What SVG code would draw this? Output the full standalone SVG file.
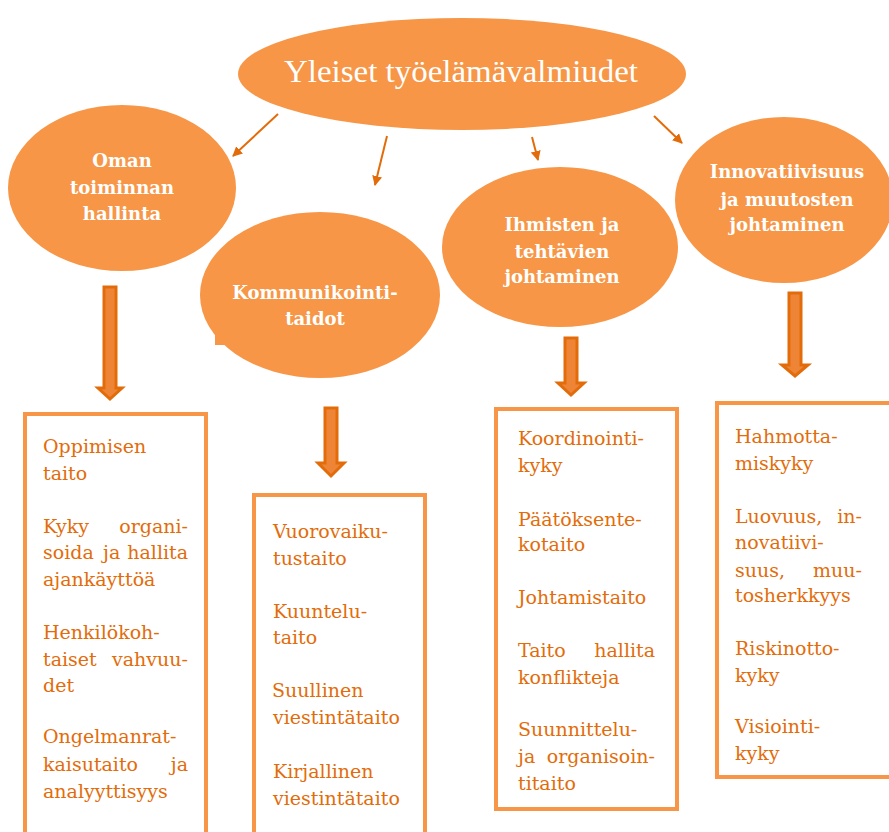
<svg xmlns="http://www.w3.org/2000/svg" width="889" height="832" viewBox="0 0 889 832">
<style>
.node{fill:#F79646}
.ct{font-family:"DejaVu Serif","Liberation Serif",serif;font-size:18px;fill:#fff;text-anchor:middle;font-weight:bold}
.bt{font-family:"DejaVu Serif","Liberation Serif",serif;font-size:19px;fill:#E36C0A}
.e{text-anchor:end}
.box{fill:#fff;stroke:#F79646;stroke-width:4}
.ln{stroke:#E36C0A;stroke-width:2;fill:none}
.blk{fill:#EE8436;stroke:#E36C0A;stroke-width:3;stroke-linejoin:miter}
</style>
<defs>
<marker id="ah" viewBox="0 0 10 10" refX="9" refY="5" markerWidth="5" markerHeight="5" orient="auto" markerUnits="strokeWidth">
<path d="M0,0 L10,5 L0,10 Z" fill="#E36C0A"/>
</marker>
</defs>
<rect width="889" height="832" fill="#fff"/>

<g id="top">
<ellipse class="node" cx="462" cy="74" rx="224" ry="56"/>
<text x="461" y="82" font-family="Liberation Serif, serif" font-size="32" fill="#fff" text-anchor="middle" textLength="354" lengthAdjust="spacingAndGlyphs">Yleiset työelämävalmiudet</text>
</g>

<g id="n1">
<ellipse class="node" cx="122" cy="188" rx="114" ry="83"/>
<text class="ct" x="122" y="167">Oman</text>
<text class="ct" x="122" y="194">toiminnan</text>
<text class="ct" x="122" y="220">hallinta</text>
</g>

<g id="n2">
<ellipse class="node" cx="320" cy="295" rx="120" ry="83"/>
<rect class="node" x="215" y="330" width="25" height="15"/>
<text class="ct" x="315" y="299">Kommunikointi-</text>
<text class="ct" x="315" y="325">taidot</text>
</g>

<g id="n3">
<ellipse class="node" cx="560" cy="247" rx="118" ry="80"/>
<text class="ct" x="562" y="231">Ihmisten ja</text>
<text class="ct" x="562" y="258">tehtävien</text>
<text class="ct" x="562" y="283">johtaminen</text>
</g>

<g id="n4">
<ellipse class="node" cx="784" cy="200" rx="109" ry="83"/>
<text class="ct" x="787" y="178">Innovatiivisuus</text>
<text class="ct" x="787" y="206">ja muutosten</text>
<text class="ct" x="787" y="231">johtaminen</text>
</g>

<g id="connectors">
<line class="ln" x1="278" y1="114" x2="233" y2="156" marker-end="url(#ah)"/>
<line class="ln" x1="387" y1="136" x2="375" y2="185" marker-end="url(#ah)"/>
<line class="ln" x1="532" y1="137" x2="538" y2="160" marker-end="url(#ah)"/>
<line class="ln" x1="654" y1="116" x2="682" y2="143" marker-end="url(#ah)"/>
<path class="blk" d="M104,287 H116 V388 H122 L110,399 L98,388 H104 Z"/>
<path class="blk" d="M325,408 H337 V463 H344 L331,476 L318,463 H325 Z"/>
<path class="blk" d="M565,338 H577 V383 H584 L571,395 L558,383 H565 Z"/>
<path class="blk" d="M789,293 H801 V365 H808 L795,376 L782,365 H789 Z"/>
</g>

<g id="b1">
<rect class="box" x="25" y="414" width="181" height="430"/>
<text class="bt" x="43" y="453">Oppimisen</text>
<text class="bt" x="43" y="480">taito</text>
<text class="bt" x="43" y="533">Kyky</text>
<text class="bt e" x="188" y="533">organi-</text>
<text class="bt" x="43" y="559">soida</text>
<text class="bt" x="103" y="559">ja</text>
<text class="bt e" x="188" y="559">hallita</text>
<text class="bt" x="43" y="586">ajankäyttöä</text>
<text class="bt" x="43" y="639">Henkilökoh-</text>
<text class="bt" x="43" y="666">taiset</text>
<text class="bt e" x="188" y="666">vahvuu-</text>
<text class="bt" x="43" y="692">det</text>
<text class="bt" x="43" y="743">Ongelmanrat-</text>
<text class="bt" x="43" y="771">kaisutaito</text>
<text class="bt e" x="188" y="771">ja</text>
<text class="bt" x="43" y="798">analyyttisyys</text>
</g>

<g id="b2">
<rect class="box" x="254" y="495" width="171" height="350"/>
<text class="bt" x="273" y="538">Vuorovaiku-</text>
<text class="bt" x="273" y="565">tustaito</text>
<text class="bt" x="273" y="618">Kuuntelu-</text>
<text class="bt" x="273" y="644">taito</text>
<text class="bt" x="272" y="697">Suullinen</text>
<text class="bt" x="273" y="724">viestintätaito</text>
<text class="bt" x="273" y="778">Kirjallinen</text>
<text class="bt" x="273" y="805">viestintätaito</text>
</g>

<g id="b3">
<rect class="box" x="496" y="409" width="181" height="400"/>
<text class="bt" x="518" y="445">Koordinointi-</text>
<text class="bt" x="518" y="472">kyky</text>
<text class="bt" x="518" y="526">Päätöksente-</text>
<text class="bt" x="518" y="551">kotaito</text>
<text class="bt" x="518" y="604">Johtamistaito</text>
<text class="bt" x="518" y="657">Taito</text>
<text class="bt e" x="655" y="657">hallita</text>
<text class="bt" x="518" y="684">konflikteja</text>
<text class="bt" x="518" y="736">Suunnittelu-</text>
<text class="bt" x="518" y="763">ja</text>
<text class="bt e" x="655" y="763">organisoin-</text>
<text class="bt" x="518" y="790">titaito</text>
</g>

<g id="b4">
<rect class="box" x="717" y="403" width="190" height="374"/>
<text class="bt" x="735" y="443">Hahmotta-</text>
<text class="bt" x="735" y="470">miskyky</text>
<text class="bt" x="735" y="523">Luovuus,</text>
<text class="bt e" x="862" y="523">in-</text>
<text class="bt" x="735" y="549">novatiivi-</text>
<text class="bt" x="735" y="577">suus,</text>
<text class="bt e" x="862" y="577">muu-</text>
<text class="bt" x="735" y="602">tosherkkyys</text>
<text class="bt" x="735" y="655">Riskinotto-</text>
<text class="bt" x="735" y="682">kyky</text>
<text class="bt" x="735" y="733">Visiointi-</text>
<text class="bt" x="735" y="760">kyky</text>
</g>
</svg>
